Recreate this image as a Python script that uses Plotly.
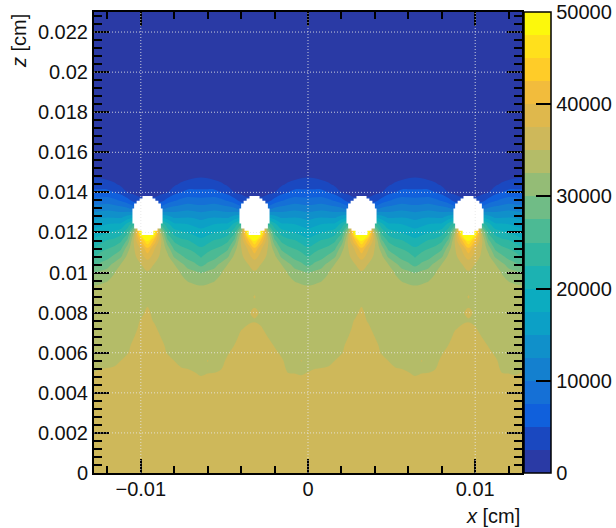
import plotly.graph_objects as go

x_cm = [round(-0.0128 + 0.0004 * k, 4) for k in range(65)]

z_floor = [0, 0.002, 0.004, 0.0044]
floor_values = [36000, 36000, 36000, 36000]

z_lower = [0.0048, 0.0052, 0.0056, 0.0060, 0.0064, 0.0068, 0.0072, 0.0076, 0.0080, 0.0084, 0.0088]
lower_rows = [
    [35600,36000,36000,36000,36000,36000,36000,36000,36000,36000,36000,36000,36000,36000,36000,35600,35100,35400,35500,35900,36000,36000,36000,36000,36000,36000,36000,36000,36000,35500,35400,35200],
    [34600,34980,35100,35300,36000,36000,36000,36000,36000,36000,36000,36000,36000,35200,34980,34600,34100,34400,34500,34900,36000,36000,36000,36000,36000,36000,36000,36000,36000,34500,34400,34200],
    [34000,34000,34100,34200,35000,35800,36000,36000,36000,36000,36000,35800,34980,34200,34000,34000,34000,35100,34000,34000,35700,36000,36000,36000,36000,36000,36000,36000,35500,34000,34000,35100],
    [34000,34000,34000,34000,34000,34800,36000,36000,36000,36000,36000,34800,34000,34000,34000,34000,34000,34000,34000,34000,34700,36000,36000,36000,36000,36000,36000,35700,34500,34000,34000,34000],
    [34000,34000,34000,34000,34000,34000,36000,36000,36000,36000,36000,34000,34000,34000,34000,34000,34000,34000,34000,34000,34000,34980,36000,36000,36000,36000,36000,34700,34000,34000,34000,34000],
    [34000,34000,34000,34000,34000,34000,34950,36000,36000,36000,34950,34000,34000,34000,34000,34000,34000,34000,34000,34000,34000,34000,35800,36000,36000,36000,34950,34000,34000,34000,34000,34000],
    [34000,34000,34000,34000,34000,34000,34000,36000,36000,35700,34000,34000,34000,34000,34000,34000,34000,34000,34000,34000,34000,34000,34800,35500,35800,35300,34000,34000,34000,34000,34000,34000],
    [34000,34000,34000,34000,34000,34000,34000,35200,36000,34700,34000,34000,34000,34000,34000,34000,34000,34000,34000,34000,34000,34000,34000,34500,34800,34300,34000,34000,34000,34000,34000,34000],
    [34000,34000,34000,34000,34000,34000,34000,34200,35750,34000,34000,34000,34000,34000,34000,34000,34000,34000,34000,34000,34000,34000,34000,34700,35500,34700,34000,34000,34000,34000,34000,34000],
    [34000,34000,34000,34000,34000,34000,34000,34000,34750,34000,34000,34000,34000,34000,34000,34000,34000,34000,34000,34000,34000,34000,34000,34000,34700,34000,34000,34000,34000,34000,34000,34000],
    [33700,33800,33800,34000,34200,34200,34300,34400,34300,34400,34300,34200,34200,34000,33800,33800,33700,33800,33800,34000,34200,34200,34300,34400,35100,34400,34300,34200,34200,34000,33800,33800],
]

z_upper = [0.0092, 0.0096, 0.0100, 0.0104, 0.0108, 0.0112, 0.0116, 0.0120, 0.0124, 0.0128,
           0.0132, 0.0136, 0.0140, 0.0144, 0.0148, 0.0152]
# one half wire cell: from the wire out to the midpoint between wires
upper_rows = [
    [34500,34400,34300,34200,34000,33500,33200,33100,33000],
    [34600,34500,34300,34100,33900,33000,32400,32000,31700],
    [34800,34600,34200,34000,33500,32400,30900,30600,29800],
    [35800,34900,34200,33700,32600,30700,29100,27900,26800],
    [38700,36500,34400,33200,29600,28000,26600,26300,24700],
    [42000,37800,34900,31400,27000,25700,24900,23900,22900],
    [48000,42000,35500,28000,24500,23200,22700,21600,20600],
    [56000,50000,33000,24400,21400,20500,19800,19200,18600],
    [45000,40000,25000,20900,18100,17900,17600,16900,16400],
    [25000,20000,17000,15600,14300,14400,14600,14400,13900],
    [8000,8000,9000,10400,11000,11500,11800,11400,11200],
    [3000,3000,4000,6000,7200,8100,8700,8600,8350],
    [1700,1800,2000,2500,4200,5000,5900,5800,5750],
    [1200,1300,1400,1800,2000,2900,3500,3800,3800],
    [800,900,1000,1200,1300,1400,1700,2100,2300],
    [500,600,700,800,1000,1000,1000,900,800],
]
z_top = 0.023
top_value = 200

wire_x = [-0.0096, -0.0032, 0.0032, 0.0096]
# blocky outline of the empty wire cells: row edges in z and half width of each row in x
hole_z_edges = [0.01382, 0.0137, 0.01358, 0.01345, 0.0132, 0.01245, 0.0122, 0.01208, 0.01187]
hole_half_widths = [0.0003, 0.00047, 0.00065, 0.0008, 0.0009, 0.0008, 0.0006, 0.00035]

band_colors = ["#2A3AA5","#1A48C0","#1060DC","#1570D6","#1480CF","#1090CA","#0CA0C6","#0CACC0","#1CB2B2","#30B6A0",
               "#4CBA94","#70BC86","#94BC76","#B4BC68","#CEB85A","#DFB84C","#F2BC3C","#FFCC28","#FFE01C","#FCF80C"]

y_ticks = [0, 0.002, 0.004, 0.006, 0.008, 0.01, 0.012, 0.014, 0.016, 0.018, 0.02, 0.022]
y_labels = ["0", "0.002", "0.004", "0.006", "0.008", "0.01", "0.012", "0.014", "0.016", "0.018", "0.02", "0.022"]
x_ticks = [-0.01, 0, 0.01]
x_labels = ["\u22120.01", "0", "0.01"]
cb_ticks = [0, 10000, 20000, 30000, 40000, 50000]

# assemble the full field from the typed rows
z_axis = z_floor + z_lower + z_upper + [z_top]
field = []
for v in floor_values:
    field.append([v] * 65)
for row in lower_rows:
    field.append(row + row + [row[0]])
for row in upper_rows:
    period = row[::-1] + row[1:-1]
    field.append((period * 4)[:64] + [row[-1]])
field.append([top_value] * 65)

n = len(band_colors)
colorscale = []
for i, c in enumerate(band_colors):
    colorscale.append([i / n, c])
    colorscale.append([(i + 1) / n, c])

FONT = "Liberation Sans, Arial, sans-serif"
INK = "#111111"

fig = go.Figure()
fig.add_trace(go.Contour(
    x=x_cm, y=z_axis, z=field,
    zmin=0, zmax=50000,
    autocontour=False,
    contours=dict(start=0, end=50000, size=2500, coloring="fill", showlines=False),
    line=dict(width=0),
    colorscale=colorscale,
    hoverinfo="skip",
    colorbar=dict(
        x=1.005, xanchor="left", xpad=0, y=0, yanchor="bottom", ypad=0, len=1,
        thickness=27, thicknessmode="pixels",
        tickmode="array", tickvals=cb_ticks, ticktext=[str(t) for t in cb_ticks],
        ticks="inside", ticklen=15, tickwidth=1.5, tickcolor="black",
        outlinecolor="black", outlinewidth=1.5,
        tickfont=dict(family=FONT, size=20, color=INK),
    ),
))
# invisible trace that carries the mirrored top and right axes
fig.add_trace(go.Scatter(x=x_ticks, y=y_ticks[:3], xaxis="x2", yaxis="y2", mode="markers",
                         marker=dict(opacity=0), showlegend=False, hoverinfo="skip"))

shapes = []
for wx in wire_x:
    pts_right = []
    pts_left = []
    for i, hw in enumerate(hole_half_widths):
        pts_right += [(wx + hw, hole_z_edges[i]), (wx + hw, hole_z_edges[i + 1])]
        pts_left += [(wx - hw, hole_z_edges[i]), (wx - hw, hole_z_edges[i + 1])]
    pts = pts_right + pts_left[::-1]
    path = "M " + " L ".join(f"{a:.6f},{b:.6f}" for a, b in pts) + " Z"
    shapes.append(dict(type="path", xref="x", yref="y", path=path,
                       fillcolor="white", line=dict(width=0), layer="above"))
GRID = dict(color="rgba(230,230,230,0.85)", width=1, dash="1px,2px")
for t in x_ticks:
    shapes.append(dict(type="line", xref="x", yref="paper", x0=t, x1=t, y0=0, y1=1, line=GRID, layer="above"))
for t in y_ticks[1:]:
    shapes.append(dict(type="line", xref="paper", yref="y", x0=0, x1=1, y0=t, y1=t, line=GRID, layer="above"))

x_major = dict(tickmode="array", tickvals=x_ticks, ticks="inside", ticklen=14, tickwidth=2, tickcolor="black",
               minor=dict(ticks="inside", ticklen=7, tickwidth=2, tickcolor="black", dtick=0.002),
               showline=True, linewidth=2, linecolor="black", showgrid=False, zeroline=False,
               range=[-0.0128, 0.0128])
y_major = dict(tickmode="array", tickvals=y_ticks, ticks="inside", ticklen=15, tickwidth=2, tickcolor="black",
               minor=dict(ticks="inside", ticklen=8, tickwidth=2, tickcolor="black", dtick=0.0004),
               showline=True, linewidth=2, linecolor="black", showgrid=False, zeroline=False,
               range=[0, 0.023])

fig.update_layout(
    width=616, height=528, autosize=False,
    margin=dict(l=94, r=94, t=12, b=55, autoexpand=False),
    paper_bgcolor="white", plot_bgcolor="white",
    font=dict(family=FONT, size=20, color=INK),
    shapes=shapes,
    showlegend=False,
    xaxis=dict(ticktext=x_labels, ticklabelstandoff=-3, **x_major),
    yaxis=dict(ticktext=y_labels, **y_major),
    xaxis2=dict(overlaying="x", side="top", showticklabels=False, **x_major),
    yaxis2=dict(overlaying="y", side="right", showticklabels=False, **y_major),
    annotations=[
        dict(text="<i>x</i> [cm]", xref="paper", yref="paper", x=1, y=0, xanchor="right", yanchor="top",
             yshift=-30, showarrow=False, font=dict(size=20, family=FONT, color=INK)),
        dict(text="<i>z</i> [cm]", xref="paper", yref="paper", x=0, y=1, xanchor="right", yanchor="top",
             xshift=-62, textangle=-90, showarrow=False, font=dict(size=20, family=FONT, color=INK)),
    ],
)

fig.write_html("out.html", config=dict(displayModeBar=False),
               post_script="document.body.style.margin='0';")
